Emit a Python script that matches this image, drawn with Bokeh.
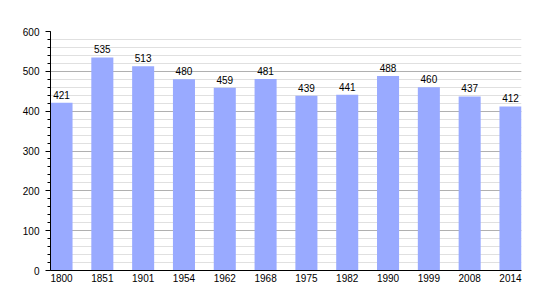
from bokeh.plotting import figure
from bokeh.models import ColumnDataSource, FixedTicker, SingleIntervalTicker, Range1d
from bokeh.core.properties import value
from bokeh.embed import file_html
from bokeh.resources import INLINE

years = ["1800", "1851", "1901", "1954", "1962", "1968", "1975", "1982", "1990", "1999", "2008", "2014"]
population = [421, 535, 513, 480, 459, 481, 439, 441, 488, 460, 437, 412]

xs = list(range(len(years)))
src = ColumnDataSource(dict(x=xs, y=population, label=[str(v) for v in population]))

p = figure(width=550, height=300, output_backend="svg", toolbar_location=None,
           x_range=Range1d(-0.27, len(years) - 1 + 0.27), y_range=Range1d(0, 600),
           min_border_left=50, min_border_right=29, min_border_top=31, min_border_bottom=30)
p.outline_line_color = None
p.background_fill_color = "white"
p.border_fill_color = "white"

p.vbar(x="x", top="y", width=0.54, bottom=0, source=src, fill_color="#99aaff", line_color=None)
p.text(x="x", y="y", text="label", source=src, y_offset=-4, text_align="center",
       text_baseline="bottom", text_font=value("Liberation Sans"), text_font_size="10px",
       text_color="black")

p.xgrid.grid_line_color = None
p.ygrid.grid_line_color = "#b0b0b0"
p.ygrid.minor_grid_line_color = "#e0e0e0"
p.ygrid.level = "underlay"

p.yaxis.ticker = SingleIntervalTicker(interval=100, num_minor_ticks=5)
p.yaxis.axis_line_color = "black"
p.yaxis.major_tick_line_color = "black"
p.yaxis.minor_tick_line_color = "black"
p.yaxis.major_tick_out = 5
p.yaxis.major_tick_in = 0
p.yaxis.minor_tick_out = 3
p.yaxis.minor_tick_in = 0
p.yaxis.major_label_text_font = "Liberation Sans"
p.yaxis.major_label_text_font_size = "10px"
p.yaxis.major_label_text_color = "black"
p.yaxis.major_label_standoff = 6

p.xaxis.ticker = FixedTicker(ticks=xs)
p.xaxis.major_label_overrides = {i: y for i, y in enumerate(years)}
p.xaxis.axis_line_color = "black"
p.xaxis.major_tick_line_color = None
p.xaxis.minor_tick_line_color = None
p.xaxis.major_tick_out = 0
p.xaxis.major_tick_in = 0
p.xaxis.minor_tick_out = 0
p.xaxis.major_label_text_font = "Liberation Sans"
p.xaxis.major_label_text_font_size = "10px"
p.xaxis.major_label_text_color = "black"
p.xaxis.major_label_standoff = 3

open("out.html", "w").write(file_html(p, INLINE))
